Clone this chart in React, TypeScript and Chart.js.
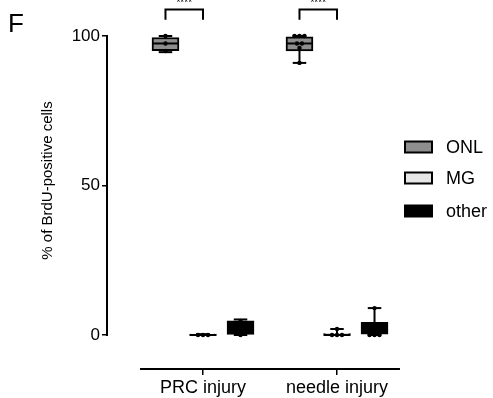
import React, { useEffect, useRef } from "react";
import { Chart, registerables } from "chart.js";
Chart.register(...registerables);

const FONT = "'Liberation Sans', Arial, Helvetica, sans-serif";

const categories = ["PRC injury", "needle injury"];
const seriesNames = ["ONL", "MG", "other"];
const seriesColors = ["#8e8e8e", "#e6e6e6", "#000000"];
const yTicks = [0, 50, 100];
const panelLetter = "F";
const yTitle = "% of BrdU-positive cells";
const significance = ["****", "****"];

// box statistics per category (PRC injury, needle injury)
const onlMin = [94.6, 91];
const onlQ1 = [95.1, 95];
const onlMed = [97.5, 97.5];
const onlQ3 = [99.5, 99.7];
const onlMax = [100, 100];
const onlPoints = [[95, 97.5, 100], [91, 96, 97.5, 97.5, 100, 100, 100]];

const mgMin = [0, 0];
const mgQ1 = [0, 0];
const mgMed = [0, 0];
const mgQ3 = [0.3, 0.5];
const mgMax = [0.3, 2];
const mgPoints = [[0, 0, 0], [0, 0, 0, 2]];

const otherMin = [0, 0];
const otherQ1 = [0.2, 0];
const otherMed = [2, 1.5];
const otherQ3 = [4.7, 4.2];
const otherMax = [5.2, 9];
const otherPoints = [[0, 2, 4.7], [0, 0, 0, 9]];

const series = [
  { min: onlMin, q1: onlQ1, med: onlMed, q3: onlQ3, max: onlMax, pts: onlPoints },
  { min: mgMin, q1: mgQ1, med: mgMed, q3: mgQ3, max: mgMax, pts: mgPoints },
  { min: otherMin, q1: otherQ1, med: otherMed, q3: otherQ3, max: otherMax, pts: otherPoints },
];

// layout constants (not data)
const groupOffsets = [-0.28, 0, 0.28];

function line(ctx: CanvasRenderingContext2D, x1: number, y1: number, x2: number, y2: number) {
  ctx.beginPath();
  ctx.moveTo(x1, y1);
  ctx.lineTo(x2, y2);
  ctx.stroke();
}

const boxPlugin = {
  id: "boxExtras",
  beforeDatasetsDraw(chart: any) {
    const ctx = chart.ctx as CanvasRenderingContext2D;
    const y = chart.scales.y;
    ctx.save();
    ctx.strokeStyle = "#000";
    ctx.lineWidth = 2;
    series.forEach((s, di) => {
      const meta = chart.getDatasetMeta(di);
      meta.data.forEach((bar: any, ci: number) => {
        const cx = bar.x;
        const cap = bar.width / 4;
        const pMin = y.getPixelForValue(s.min[ci]);
        const pMax = y.getPixelForValue(s.max[ci]);
        const pQ1 = y.getPixelForValue(s.q1[ci]);
        const pQ3 = y.getPixelForValue(s.q3[ci]);
        line(ctx, cx, pQ3, cx, pMax);
        line(ctx, cx - cap, pMax, cx + cap, pMax);
        line(ctx, cx, pQ1, cx, pMin);
        line(ctx, cx - cap, pMin, cx + cap, pMin);
      });
    });
    ctx.restore();
  },
  afterDatasetsDraw(chart: any) {
    const ctx = chart.ctx as CanvasRenderingContext2D;
    const y = chart.scales.y;
    ctx.save();
    ctx.strokeStyle = "#000";
    ctx.fillStyle = "#000";
    ctx.lineWidth = 2;
    series.forEach((s, di) => {
      const meta = chart.getDatasetMeta(di);
      meta.data.forEach((bar: any, ci: number) => {
        const cx = bar.x;
        const hw = bar.width / 2;
        const pMed = y.getPixelForValue(s.med[ci]);
        line(ctx, cx - hw, pMed, cx + hw, pMed);
        const pts = s.pts[ci];
        const counts: Record<string, number> = {};
        pts.forEach((v) => (counts[v] = (counts[v] || 0) + 1));
        const seen: Record<string, number> = {};
        pts.forEach((v) => {
          const n = counts[v];
          const k = seen[v] || 0;
          seen[v] = k + 1;
          const dx = (k - (n - 1) / 2) * 5;
          ctx.beginPath();
          ctx.arc(cx + dx, y.getPixelForValue(v), 2.2, 0, Math.PI * 2);
          ctx.fill();
        });
      });
    });
    ctx.restore();
  },
  afterDraw(chart: any) {
    const ctx = chart.ctx as CanvasRenderingContext2D;
    const x = chart.scales.x;
    const y = chart.scales.y;
    const area = chart.chartArea;
    ctx.save();
    ctx.strokeStyle = "#000";
    ctx.fillStyle = "#000";
    ctx.lineWidth = 2;
    // y axis line
    line(ctx, area.left, y.getPixelForValue(0) + 1, area.left, y.getPixelForValue(100) - 1);
    // x axis line
    line(ctx, x.getPixelForValue(-0.47), area.bottom, x.getPixelForValue(1.47), area.bottom);

    // significance brackets
    categories.forEach((_, ci) => {
      const a = chart.getDatasetMeta(0).data[ci].x;
      const b = chart.getDatasetMeta(1).data[ci].x;
      const top = y.getPixelForValue(108.9);
      const end = y.getPixelForValue(105.4);
      ctx.beginPath();
      ctx.moveTo(a, end);
      ctx.lineTo(a, top);
      ctx.lineTo(b, top);
      ctx.lineTo(b, end);
      ctx.stroke();
      ctx.font = `10px ${FONT}`;
      ctx.textAlign = "center";
      ctx.textBaseline = "alphabetic";
      ctx.fillText(significance[ci], (a + b) / 2, top - 3);
    });

    // legend
    seriesNames.forEach((name, i) => {
      const cy = [147, 178, 211][i];
      ctx.fillStyle = seriesColors[i];
      ctx.fillRect(405, cy - 5.5, 27, 11);
      ctx.strokeRect(405, cy - 5.5, 27, 11);
      ctx.fillStyle = "#000";
      ctx.font = `18px ${FONT}`;
      ctx.textAlign = "left";
      ctx.textBaseline = "middle";
      ctx.fillText(name, 446, cy + 1);
    });

    // y title
    ctx.save();
    ctx.translate(48, (y.getPixelForValue(0) + y.getPixelForValue(100)) / 2 - 5);
    ctx.rotate(-Math.PI / 2);
    ctx.font = `15px ${FONT}`;
    ctx.textAlign = "center";
    ctx.textBaseline = "middle";
    ctx.fillText(yTitle, 0, 0);
    ctx.restore();

    // panel letter
    ctx.font = `26px ${FONT}`;
    ctx.textAlign = "left";
    ctx.textBaseline = "alphabetic";
    ctx.fillText(panelLetter, 8, 32);
    ctx.restore();
  },
};

export default function App() {
  const ref = useRef<HTMLCanvasElement>(null);
  useEffect(() => {
    if (!ref.current) return;
    const datasets = seriesNames.map((name, di) => ({
      label: name,
      data: categories.map((_, ci) => ({
        x: ci + groupOffsets[di],
        y: [series[di].q1[ci], series[di].q3[ci]],
      })),
      backgroundColor: seriesColors[di],
      borderColor: "#000",
      borderWidth: 2,
      borderSkipped: false,
      barThickness: 27,
      grouped: false,
    }));
    const chart = new Chart(ref.current, {
      type: "bar",
      data: { datasets: datasets as any },
      plugins: [boxPlugin],
      options: {
        animation: false,
        responsive: false,
        devicePixelRatio: 1,
        layout: { padding: { left: 0, right: 89, top: 36, bottom: 0 } },
        plugins: { legend: { display: false }, tooltip: { enabled: false } },
        scales: {
          x: {
            type: "linear",
            offset: false,
            min: -0.7164,
            max: 1.5,
            afterBuildTicks: (s: any) => {
              s.ticks = categories.map((_, i) => ({ value: i }));
            },
            afterFit: (s: any) => {
              s.height = 29;
            },
            ticks: {
              callback: (v: any) => categories[Number(v)] ?? "",
              color: "#000",
              font: { family: FONT, size: 18 },
              padding: 2,
              maxRotation: 0,
              autoSkip: false,
            },
            grid: { offset: false, drawOnChartArea: false, tickLength: 6, color: "#000", lineWidth: 1.5 },
            border: { display: false },
          },
          y: {
            type: "linear",
            min: -11.37,
            max: 100,
            afterBuildTicks: (s: any) => {
              s.ticks = yTicks.map((v) => ({ value: v }));
            },
            afterFit: (s: any) => {
              s.width = 107;
            },
            ticks: {
              callback: (v: any) => String(v),
              color: "#000",
              font: { family: FONT, size: 17 },
              padding: 2,
            },
            grid: { drawOnChartArea: false, tickLength: 5, color: "#000", lineWidth: 1.5 },
            border: { display: false },
          },
        },
      } as any,
    });
    return () => chart.destroy();
  }, []);
  return (
    <div style={{ position: "absolute", left: 0, top: 0, width: 493, height: 398, background: "#fff" }}>
      <canvas ref={ref} width={493} height={398} />
    </div>
  );
}
